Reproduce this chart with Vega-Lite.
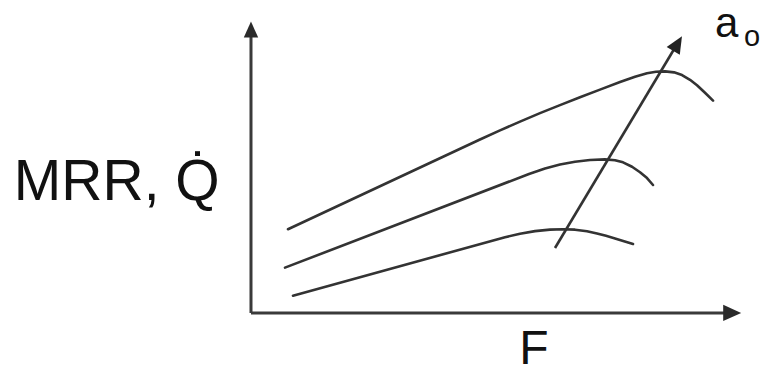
{
  "$schema": "https://vega.github.io/schema/vega-lite/v6.json",
  "width": 771,
  "height": 374,
  "padding": 0,
  "autosize": {"type": "fit", "contains": "padding"},
  "background": "white",
  "config": {"view": {"stroke": null}},
  "datasets": {
    "curves": [
      {"a": "low", "F": 0.857, "MRR": 0.603},
      {"a": "low", "F": 5.184, "MRR": 2.652},
      {"a": "low", "F": 5.490, "MRR": 2.776},
      {"a": "low", "F": 5.796, "MRR": 2.866},
      {"a": "low", "F": 6.102, "MRR": 2.917},
      {"a": "low", "F": 6.367, "MRR": 2.931},
      {"a": "low", "F": 6.612, "MRR": 2.917},
      {"a": "low", "F": 6.857, "MRR": 2.862},
      {"a": "low", "F": 7.061, "MRR": 2.783},
      {"a": "low", "F": 7.245, "MRR": 2.700},
      {"a": "low", "F": 7.429, "MRR": 2.610},
      {"a": "low", "F": 7.612, "MRR": 2.514},
      {"a": "low", "F": 7.796, "MRR": 2.414},
      {"a": "mid", "F": 0.694, "MRR": 1.586},
      {"a": "mid", "F": 5.673, "MRR": 4.869},
      {"a": "mid", "F": 6.000, "MRR": 5.062},
      {"a": "mid", "F": 6.306, "MRR": 5.200},
      {"a": "mid", "F": 6.612, "MRR": 5.300},
      {"a": "mid", "F": 6.918, "MRR": 5.359},
      {"a": "mid", "F": 7.224, "MRR": 5.379},
      {"a": "mid", "F": 7.429, "MRR": 5.352},
      {"a": "mid", "F": 7.592, "MRR": 5.276},
      {"a": "mid", "F": 7.776, "MRR": 5.121},
      {"a": "mid", "F": 7.939, "MRR": 4.931},
      {"a": "mid", "F": 8.082, "MRR": 4.724},
      {"a": "mid", "F": 8.204, "MRR": 4.483},
      {"a": "high", "F": 0.755, "MRR": 2.931},
      {"a": "high", "F": 4.673, "MRR": 6.076},
      {"a": "high", "F": 5.082, "MRR": 6.397},
      {"a": "high", "F": 5.490, "MRR": 6.703},
      {"a": "high", "F": 5.898, "MRR": 7.000},
      {"a": "high", "F": 6.306, "MRR": 7.283},
      {"a": "high", "F": 6.714, "MRR": 7.555},
      {"a": "high", "F": 7.122, "MRR": 7.824},
      {"a": "high", "F": 7.531, "MRR": 8.090},
      {"a": "high", "F": 7.837, "MRR": 8.276},
      {"a": "high", "F": 8.082, "MRR": 8.400},
      {"a": "high", "F": 8.265, "MRR": 8.452},
      {"a": "high", "F": 8.449, "MRR": 8.466},
      {"a": "high", "F": 8.633, "MRR": 8.431},
      {"a": "high", "F": 8.796, "MRR": 8.334},
      {"a": "high", "F": 8.959, "MRR": 8.169},
      {"a": "high", "F": 9.102, "MRR": 7.976},
      {"a": "high", "F": 9.265, "MRR": 7.714},
      {"a": "high", "F": 9.429, "MRR": 7.438}
    ],
    "axes": [
      {"name": "F axis", "F": 0, "MRR": 0, "F2": 9.75, "MRR2": 0},
      {"name": "MRR axis", "F": 0, "MRR": 0, "F2": 0, "MRR2": 9.86}
    ],
    "trend": [
      {"F": 6.204, "MRR": 2.276, "F2": 8.633, "MRR2": 9.241}
    ]
  },
  "encoding": {
    "x": {"type": "quantitative", "axis": null, "scale": {"domain": [-5.122, 10.612], "nice": false, "zero": false}},
    "y": {"type": "quantitative", "axis": null, "scale": {"domain": [-1.931, 10.966], "nice": false, "zero": false}}
  },
  "layer": [
    {
      "data": {"name": "axes"},
      "mark": {"type": "rule", "color": "#3a3a3a", "strokeWidth": 3},
      "encoding": {
        "x": {"field": "F"},
        "y": {"field": "MRR"},
        "x2": {"field": "F2"},
        "y2": {"field": "MRR2"}
      }
    },
    {
      "data": {"values": [{"F": 9.82, "MRR": 0}]},
      "mark": {"type": "point", "shape": "M0,-1L0.9,1L-0.9,1Z", "filled": true, "color": "#2a2a2a", "opacity": 1, "size": 324, "angle": 90},
      "encoding": {"x": {"field": "F"}, "y": {"field": "MRR"}}
    },
    {
      "data": {"values": [{"F": 0, "MRR": 9.931}]},
      "mark": {"type": "point", "shape": "M0,-1L0.9,1L-0.9,1Z", "filled": true, "color": "#2a2a2a", "opacity": 1, "size": 256, "angle": 0},
      "encoding": {"x": {"field": "F"}, "y": {"field": "MRR"}}
    },
    {
      "data": {"name": "curves"},
      "mark": {"type": "line", "interpolate": "linear", "color": "#333333", "strokeWidth": 2.6, "strokeCap": "round", "strokeJoin": "round"},
      "encoding": {
        "x": {"field": "F"},
        "y": {"field": "MRR"},
        "detail": {"field": "a", "type": "nominal"}
      }
    },
    {
      "data": {"name": "trend"},
      "mark": {"type": "rule", "color": "#333333", "strokeWidth": 2.6},
      "encoding": {
        "x": {"field": "F"},
        "y": {"field": "MRR"},
        "x2": {"field": "F2"},
        "y2": {"field": "MRR2"}
      }
    },
    {
      "data": {"values": [{"F": 8.706, "MRR": 9.438}]},
      "mark": {"type": "point", "shape": "M0,-1L0.9,1L-0.9,1Z", "filled": true, "color": "#222222", "opacity": 1, "size": 289, "angle": 31},
      "encoding": {"x": {"field": "F"}, "y": {"field": "MRR"}}
    },
    {
      "data": {"values": [{"label": "MRR, Q̇", "F": -4.84, "MRR": 3.966}]},
      "mark": {"type": "text", "font": "Liberation Sans", "fontSize": 57, "align": "left", "baseline": "alphabetic", "color": "#111111"},
      "encoding": {"x": {"field": "F"}, "y": {"field": "MRR"}, "text": {"field": "label"}}
    },
    {
      "data": {"values": [{"label": "F", "F": 5.776, "MRR": -1.78}]},
      "mark": {"type": "text", "font": "Liberation Sans", "fontSize": 48, "align": "center", "baseline": "alphabetic", "color": "#111111"},
      "encoding": {"x": {"field": "F"}, "y": {"field": "MRR"}, "text": {"field": "label"}}
    },
    {
      "data": {"values": [{"label": "a", "F": 9.47, "MRR": 9.655}]},
      "mark": {"type": "text", "font": "Liberation Sans", "fontSize": 42, "align": "left", "baseline": "alphabetic", "color": "#111111"},
      "encoding": {"x": {"field": "F"}, "y": {"field": "MRR"}, "text": {"field": "label"}}
    },
    {
      "data": {"values": [{"label": "o", "F": 10.06, "MRR": 9.345}]},
      "mark": {"type": "text", "font": "Liberation Sans", "fontSize": 29, "align": "left", "baseline": "alphabetic", "color": "#111111"},
      "encoding": {"x": {"field": "F"}, "y": {"field": "MRR"}, "text": {"field": "label"}}
    }
  ]
}
